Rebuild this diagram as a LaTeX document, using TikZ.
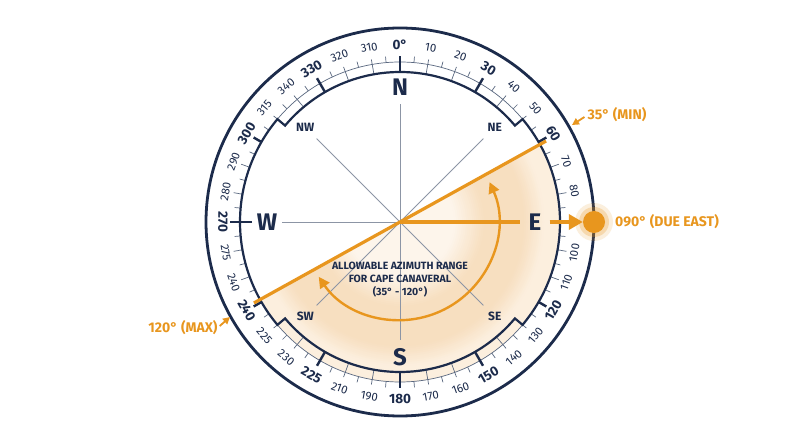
\documentclass[tikz,border=0pt]{standalone}
\usepackage{fontspec}
\setmainfont{Fira Sans}
\usetikzlibrary{arrows.meta}
\definecolor{navy}{HTML}{1C2B4B}
\definecolor{ora}{HTML}{E8961E}
\definecolor{pA}{HTML}{FDF5EB}
\definecolor{pB}{HTML}{F7DFC0}
\definecolor{pC}{HTML}{FCEFDE}
\definecolor{tickc}{HTML}{5A6880}
\definecolor{rayc}{HTML}{8C95A5}
\tikzset{
 numn/.style={font=\fontsize{11.5}{11.5}\selectfont, text=navy, inner sep=0},
 numb/.style={font=\bfseries\fontsize{13.5}{13.5}\selectfont, text=navy, inner sep=0},
 card/.style={font=\bfseries\fontsize{24}{24}\selectfont, text=navy, inner sep=0},
 icard/.style={font=\bfseries\fontsize{12}{12}\selectfont, text=navy, inner sep=0},
 oralab/.style={font=\bfseries\fontsize{14}{14}\selectfont, text=ora, inner sep=0},
 centerlab/.style={font=\bfseries\fontsize{10.5}{13}\selectfont, text=navy, inner sep=0, align=center},
 rayline/.style={draw=rayc, line width=0.8},
 thinmark/.style={draw=tickc, line width=0.7},
 boldmark/.style={draw=navy, line width=2.4},
 oraline/.style={draw=ora, line width=3.2},
 smallarrow/.style={draw=ora, line width=1.8, -{Triangle[length=7,width=7]}},
}
\begin{document}
\begin{tikzpicture}[x=1pt,y=1pt]
\useasboundingbox (0,0) rectangle (800,447);
\fill[white] (0,0) rectangle (800,447);
\begin{scope}[shift={(400,225)}]
 % peach sector with banded gradient
 \begin{scope}
  \clip (0,0) -- (29:160) arc[start angle=29,end angle=-151,radius=160] -- cycle;
  \foreach \r in {160,158,...,86}{
    \pgfmathsetmacro\m{\r<125 ? 100 : (\r<145 ? 100-(\r-125)/20*100 : 0)}
    \fill[pB!\m!pC] (0,0) circle (\r);
  }
  \foreach \r in {84,82,...,2}{
    \pgfmathsetmacro\m{\r<55 ? 0 : (\r-55)/30*100}
    \fill[pB!\m!pA] (0,0) circle (\r);
  }
 \end{scope}
 % rays
 \coordinate (ctr) at (0,0);
 \foreach \b in {0,45,90,135,180,225,270,315}
   \draw[rayline] (ctr) -- (90-\b:118);
 % thin circle
 \draw[thinmark] (0,0) circle (160);
 % minor ticks
 \foreach \b in {5,15,...,355}
   \draw[thinmark] (90-\b:160) -- (90-\b:166);
 % major ticks N/S
 \foreach \b in {10,20,40,50,130,140,160,170,190,200,220,230,310,320,340,350}
   \draw[thinmark] (90-\b:150) -- (90-\b:165);
 % major ticks E/W
 \foreach \b in {70,80,100,110,250,260,280,290}
   \draw[thinmark] (90-\b:160) -- (90-\b:169);
 % bold ticks
 \foreach \b in {0,30,150,180,210,330}
   \draw[boldmark] (90-\b:150) -- (90-\b:166);
 \foreach \b in {60,120,240,300}
   \draw[boldmark] (90-\b:160) -- (90-\b:169);
 \draw[boldmark] (180:148) -- (180:170);
 % inner boundary with tabs
 \draw[navy, line width=2.2, line join=miter]
   (140:150) arc[start angle=140,end angle=40,radius=150] -- (40:160)
   arc[start angle=40,end angle=-40,radius=160] -- (-40:150)
   arc[start angle=-40,end angle=-140,radius=150] -- (-140:160)
   arc[start angle=-140,end angle=-220,radius=160] -- cycle;
 % outer circle
 \draw[navy, line width=2.8] (0,0) circle (194);
 % scale labels
 \foreach \b/\t in {10/10,20/20,40/40,50/50,70/70,80/80,100/100,110/110,130/130,140/140,160/160,170/170,190/190,200/210,220/230,230/225,250/240,260/275,280/280,290/290,310/315,320/340,340/320,350/310}{
   \pgfmathsetmacro\rot{ifthenelse(and(\b>90,\b<271),180-\b,-\b)}
   \node[numn, rotate=\rot] (n\b) at (90-\b:177) {\t};
 }
 \foreach \b/\t in {0/0°,30/30,60/60,120/120,150/150,180/180,210/225,240/240,270/270,300/300,330/330}{
   \pgfmathsetmacro\rot{ifthenelse(and(\b>90,\b<271),180-\b,-\b)}
   \node[numb, rotate=\rot] (b\b) at (90-\b:177) {\t};
 }
 % cardinal labels
 \node[card] (N) at (90:135) {N};
 \node[card] (E) at (0:135) {E};
 \node[card] (S) at (-90:135) {S};
 \node[card] (W) at (180:133) {W};
 \node[icard] (NE) at (45:134) {NE};
 \node[icard] (NW) at (135:134) {NW};
 \node[icard] (SE) at (-45:134) {SE};
 \node[icard] (SW) at (-135:134) {SW};
 % orange range line
 \coordinate (minpt) at (29:167);
 \coordinate (maxpt) at (-151:167);
 \draw[oraline] (minpt) -- (maxpt);
 % double arc
 \draw[ora, line width=2.4, {Triangle[length=11,width=11]}-{Triangle[length=11,width=11]}]
   (24:98) arc[start angle=24,end angle=-146,radius=98];
 % sun
 \fill[ora, opacity=0.15] (194,0) circle (19);
 \fill[ora, opacity=0.25] (194,0) circle (15);
 \node[circle, fill=ora, minimum size=22, inner sep=0] (sun) at (194,0) {};
 % east arrow
 \draw[ora, line width=4.5] (ctr) -- ([xshift=-8]E.west);
 \draw[ora, line width=4.5, -{Triangle[length=14,width=15]}] ([xshift=8]E.east) -- (sun.west);
 % orange labels
 \node[oralab, anchor=west] (due) at (215,0) {090° (DUE EAST)};
 \node[oralab] (minlab) at (217,107) {35° (MIN)};
 \coordinate (minT) at (172,97);
 \draw[smallarrow] ([xshift=-3,yshift=-2]minlab.west) -- (minT);
 \node[oralab] (maxlab) at (-217,-106) {120° (MAX)};
 \coordinate (maxT) at (-170,-95);
 \draw[smallarrow] ([xshift=2,yshift=2]maxlab.east) -- (maxT);
 % center label
 \node[centerlab] (rng) at (0,-58) {ALLOWABLE AZIMUTH RANGE\\FOR CAPE CANAVERAL\\(35° - 120°)};
\end{scope}
\end{tikzpicture}
\end{document}
